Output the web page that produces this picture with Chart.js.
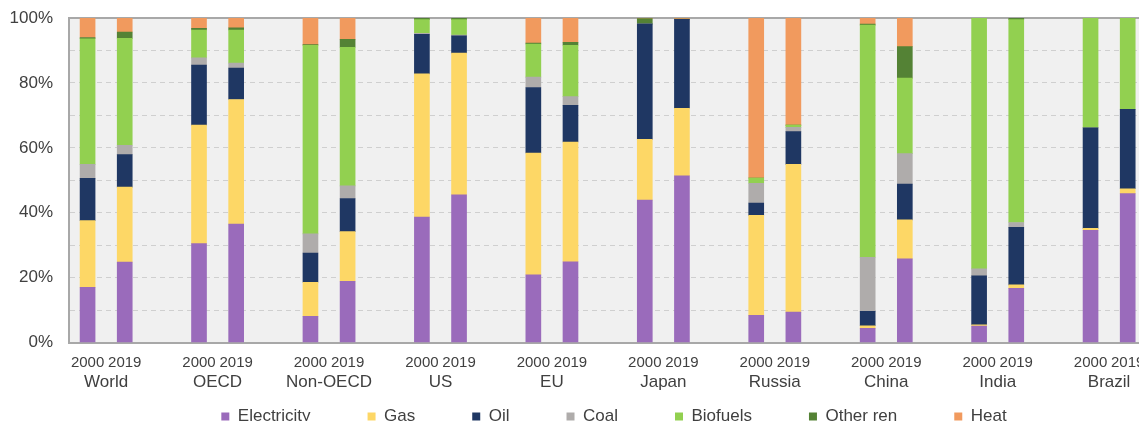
<!DOCTYPE html>
<html>
<head>
<meta charset="utf-8">
<script src="https://cdn.jsdelivr.net/npm/chart.js@4/dist/chart.umd.min.js"></script>
<style>
    html, body { margin: 0; padding: 0; background: #ffffff; overflow: hidden; }
    canvas { display: block; }
</style>
</head>
<body>
<canvas id="chart" width="1228" height="478"></canvas>
<script>
// share of final energy use, %, pairs per region: 2000 then 2019
const regions = ["World", "OECD", "Non-OECD", "US", "EU", "Japan", "Russia", "China", "India", "Brazil"];
const years = ["2000", "2019"];

const electricity = [17.0, 24.8, 30.5, 36.5, 8.1, 18.9, 38.7, 45.5, 20.9, 24.9, 43.9, 51.4, 8.4, 9.4, 4.4, 25.8, 5.1, 16.7, 34.6, 45.9];
const gas = [20.6, 23.1, 36.5, 38.4, 10.5, 15.3, 44.1, 43.7, 37.5, 36.9, 18.7, 20.8, 30.8, 45.5, 0.8, 12.0, 0.4, 1.1, 0.6, 1.5];
const oil = [13.0, 10.0, 18.5, 9.7, 9.0, 10.2, 12.2, 5.3, 20.2, 11.3, 35.6, 27.4, 3.8, 10.1, 4.4, 11.0, 15.1, 17.7, 31.0, 24.5];
const coal = [4.3, 2.9, 2.2, 1.5, 5.9, 3.9, 0.3, 0.2, 3.2, 2.7, 0, 0, 6.1, 1.3, 16.7, 9.4, 2.1, 1.5, 0, 0];
const biofuels = [38.7, 32.9, 8.6, 10.2, 58.1, 42.7, 4.2, 4.8, 10.2, 15.8, 0, 0, 1.6, 0.7, 71.5, 23.3, 77.3, 62.5, 33.8, 28.1];
const otherRen = [0.4, 2.0, 0.5, 0.7, 0.2, 2.4, 0.5, 0.5, 0.3, 0.9, 1.6, 0.1, 0, 0, 0.3, 9.7, 0, 0.5, 0, 0];
const heat = [6.0, 5.2, 3.2, 3.4, 8.2, 6.6, 0, 0, 7.7, 7.5, 0.2, 0.3, 49.3, 33.0, 1.9, 8.8, 0, 0, 0, 0];

const yTicks = [0, 20, 40, 60, 80, 100];

const series = [
    { label: "Electricity", values: electricity, color: "#9a6bbb" },
    { label: "Gas", values: gas, color: "#fdd766" },
    { label: "Oil", values: oil, color: "#1f3763" },
    { label: "Coal", values: coal, color: "#afacab" },
    { label: "Biofuels", values: biofuels, color: "#92d050" },
    { label: "Other ren", values: otherRen, color: "#548235" },
    { label: "Heat", values: heat, color: "#f19a5e" }
];

// bar k sits at 3 * region + year, so each region pair leaves a one-slot gap
const barPos = (k) => 3 * Math.floor(k / 2) + (k % 2);
const yearPositions = regions.flatMap((r, i) => [3 * i, 3 * i + 1]);
const regionPositions = regions.map((r, i) => 3 * i + 0.5);

const textColor = "#404040";
const frameColor = "#a8a8a8";
const xMin = -0.5;
const xMax = 30.7;

Chart.defaults.font.family = "'Liberation Sans', Arial, sans-serif";
Chart.defaults.color = textColor;

const plotBackground = {
    id: "plotBackground",
    beforeDraw(chart) {
        const { ctx, chartArea } = chart;
        ctx.save();
        ctx.fillStyle = "#f0f0f0";
        ctx.fillRect(chartArea.left, chartArea.top, chartArea.right - chartArea.left, chartArea.bottom - chartArea.top);
        ctx.restore();
    }
};

// the legend keeps wide gaps between items but sits close under the axis labels
const legendLift = {
    id: "legendLift",
    afterLayout(chart) {
        chart.legend.top -= 43;
        chart.legend.bottom -= 43;
    }
};

new Chart(document.getElementById("chart"), {
    type: "bar",
    data: {
        datasets: series.map((s) => ({
            label: s.label,
            data: s.values.map((v, k) => ({ x: barPos(k), y: v })),
            backgroundColor: s.color,
            borderWidth: 0,
            barThickness: 15
        }))
    },
    options: {
        responsive: false,
        animation: false,
        layout: { padding: { top: 18, left: 0, right: 0, bottom: 0 } },
        plugins: {
            legend: {
                position: "bottom",
                align: "center",
                labels: {
                    boxWidth: 8,
                    boxHeight: 8,
                    padding: 57,
                    color: textColor,
                    font: { size: 17 }
                }
            },
            tooltip: { enabled: false }
        },
        scales: {
            x: {
                type: "linear",
                position: "bottom",
                offset: false,
                stacked: true,
                min: xMin,
                max: xMax,
                weight: 0,
                z: 1,
                grid: { display: false, drawTicks: false, offset: false },
                border: { display: true, color: frameColor, width: 2 },
                afterBuildTicks: (scale) => {
                    scale.ticks = yearPositions.map((v) => ({ value: v }));
                },
                // no extra padding under the years, the region names follow right away
                afterFit: (scale) => {
                    scale.height = 29;
                },
                ticks: {
                    autoSkip: false,
                    maxRotation: 0,
                    minRotation: 0,
                    padding: 11,
                    font: { size: 15 },
                    callback: (value) => years[Math.round(value) % 3]
                }
            },
            xRegion: {
                type: "linear",
                position: "bottom",
                offset: false,
                min: xMin,
                max: xMax,
                weight: 1,
                grid: { display: false, drawTicks: false },
                border: { display: false },
                afterBuildTicks: (scale) => {
                    scale.ticks = regionPositions.map((v) => ({ value: v }));
                },
                ticks: {
                    autoSkip: false,
                    maxRotation: 0,
                    minRotation: 0,
                    padding: 1,
                    font: { size: 17 },
                    callback: (value) => regions[Math.floor(value / 3)]
                }
            },
            xTop: {
                type: "linear",
                position: "top",
                offset: false,
                min: xMin,
                max: xMax,
                z: 1,
                grid: { display: false, drawTicks: false },
                border: { display: true, color: frameColor, width: 2 },
                ticks: { display: false },
                afterFit: (scale) => {
                    scale.height = 0;
                }
            },
            y: {
                stacked: true,
                min: 0,
                max: 100,
                // fixed gutter for the % labels; layout padding alone sets the plot top
                afterFit: (scale) => {
                    scale.width = 69;
                    scale.paddingTop = 0;
                    scale.paddingBottom = 0;
                },
                grid: { color: "#cfcfcf", lineWidth: 1, drawTicks: false },
                border: { display: true, color: frameColor, width: 2, dash: [5, 4] },
                ticks: {
                    stepSize: 10,
                    padding: 16,
                    font: { size: 17 },
                    callback: (value) => (yTicks.includes(value) ? value + "%" : "")
                }
            }
        }
    },
    plugins: [plotBackground, legendLift]
});
</script>
</body>
</html>
